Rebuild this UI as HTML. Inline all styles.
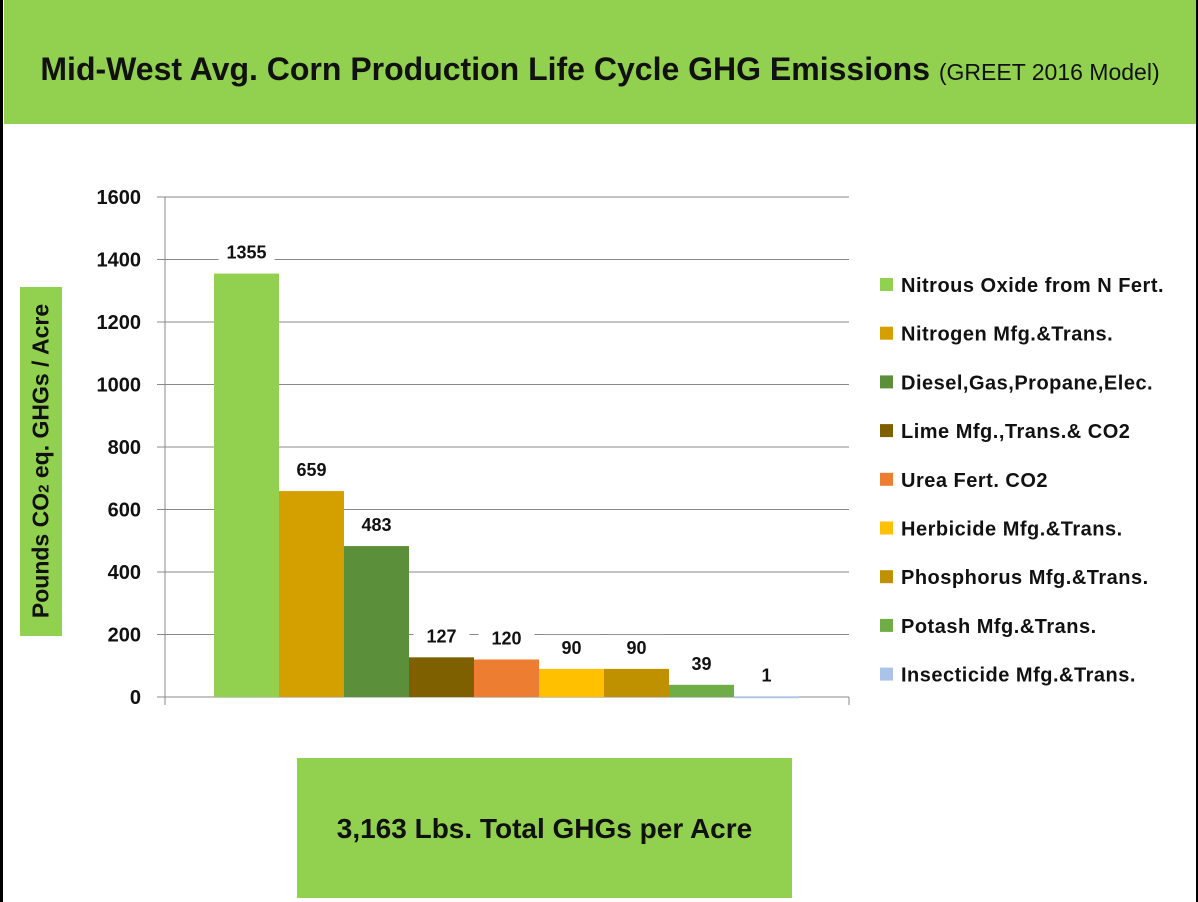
<!DOCTYPE html>
<html><head><meta charset="utf-8"><style>
body{margin:0;width:1198px;height:902px;position:relative;background:#fff;font-family:"Liberation Sans",sans-serif;overflow:hidden}
.abs{position:absolute}
</style></head><body>
<div class="abs" style="left:0;top:0;width:3px;height:902px;background:#000"></div>
<div class="abs" style="left:1196px;top:0;width:2px;height:902px;background:#000"></div>
<div class="abs" style="left:4px;top:0;width:1192px;height:124px;background:#92d050"></div>
<div class="abs" style="left:4px;top:51px;width:1192px;text-align:center;font-size:32px;font-weight:bold;color:#111;white-space:nowrap">Mid-West Avg. Corn Production Life Cycle GHG Emissions <span style="font-weight:normal;font-size:23px">(GREET 2016 Model)</span></div>
<div class="abs" style="left:20px;top:287px;width:42px;height:349px;background:#92d050"></div>
<div class="abs" style="left:41px;top:461px;transform:translate(-50%,-50%) rotate(-90deg);font-size:23px;font-weight:bold;white-space:nowrap;color:#111">Pounds CO<span style="font-size:15px">2</span> eq. GHGs / Acre</div>
<div class="abs" style="left:297px;top:758px;width:495px;height:140px;background:#92d050"></div>
<div class="abs" style="left:297px;top:813px;width:495px;text-align:center;font-size:28px;font-weight:bold;color:#111">3,163 Lbs. Total GHGs per Acre</div>
<svg class="abs" style="left:0;top:0" width="1198" height="902" id="chart"></svg>
<script>
const categories=["Nitrous Oxide from N Fert.","Nitrogen Mfg.&Trans.","Diesel,Gas,Propane,Elec.","Lime Mfg.,Trans.& CO2","Urea Fert. CO2","Herbicide Mfg.&Trans.","Phosphorus Mfg.&Trans.","Potash Mfg.&Trans.","Insecticide Mfg.&Trans."];
const values=[1355,659,483,127,120,90,90,39,1];
const colors=["#92d050","#d4a000","#5b8f3a","#7f6000","#ed7d31","#ffc000","#bf9000","#70ad47","#a9c4e8"];
const ticks=[0,200,400,600,800,1000,1200,1400,1600];
const svg=document.getElementById('chart');const NS="http://www.w3.org/2000/svg";
const x0=165,x1=849,y0=697,yTop=197,ymax=1600,bx=214,bw=65;
const y=v=>y0-(v/ymax)*(y0-yTop);
function mk(t,a){const e=document.createElementNS(NS,t);for(const k in a)e.setAttribute(k,a[k]);svg.appendChild(e);return e;}
ticks.forEach(t=>{
 const g=mk('line',{x1:157,x2:x1,y1:y(t),y2:y(t),stroke:'#888','stroke-width':1});
 
 
 const l=mk('text',{x:141,y:y(t)+7,'text-anchor':'end','font-size':20,'font-weight':'bold',fill:'#111','font-family':'Liberation Sans'});
 l.textContent=t;
 
 
});
const ax=mk('line',{x1:x0,x2:x0,y1:yTop,y2:y0+8,stroke:'#888'});


const ax2=mk('line',{x1:x1,x2:x1,y1:y0,y2:y0+8,stroke:'#888'});


values.forEach((v,i)=>{
 const x=bx+i*bw;
 const top=y(v);
 const r=mk('rect',{x:x,y:top,width:bw,height:Math.max(y0-top,1.5),fill:colors[i]});
 
 
 const bg=mk('rect',{x:x+bw/2-28,y:top-34,width:56,height:24,fill:'#fff'});
 
 
 const t=mk('text',{x:x+bw/2,y:top-15,'text-anchor':'middle','font-size':18,'font-weight':'bold',fill:'#111','font-family':'Liberation Sans'});
 t.textContent=v;
 
 
});
categories.forEach((c,i)=>{
 const cy=285+i*48.7;
 const s=mk('rect',{x:880,y:cy-7,width:13,height:13,fill:colors[i]});
 
 
 const t=mk('text',{x:901,y:cy+7,'font-size':20,'font-weight':'bold','letter-spacing':0.5,fill:'#111','font-family':'Liberation Sans'});
 t.textContent=c;
 
 
});
</script>
</body></html>
